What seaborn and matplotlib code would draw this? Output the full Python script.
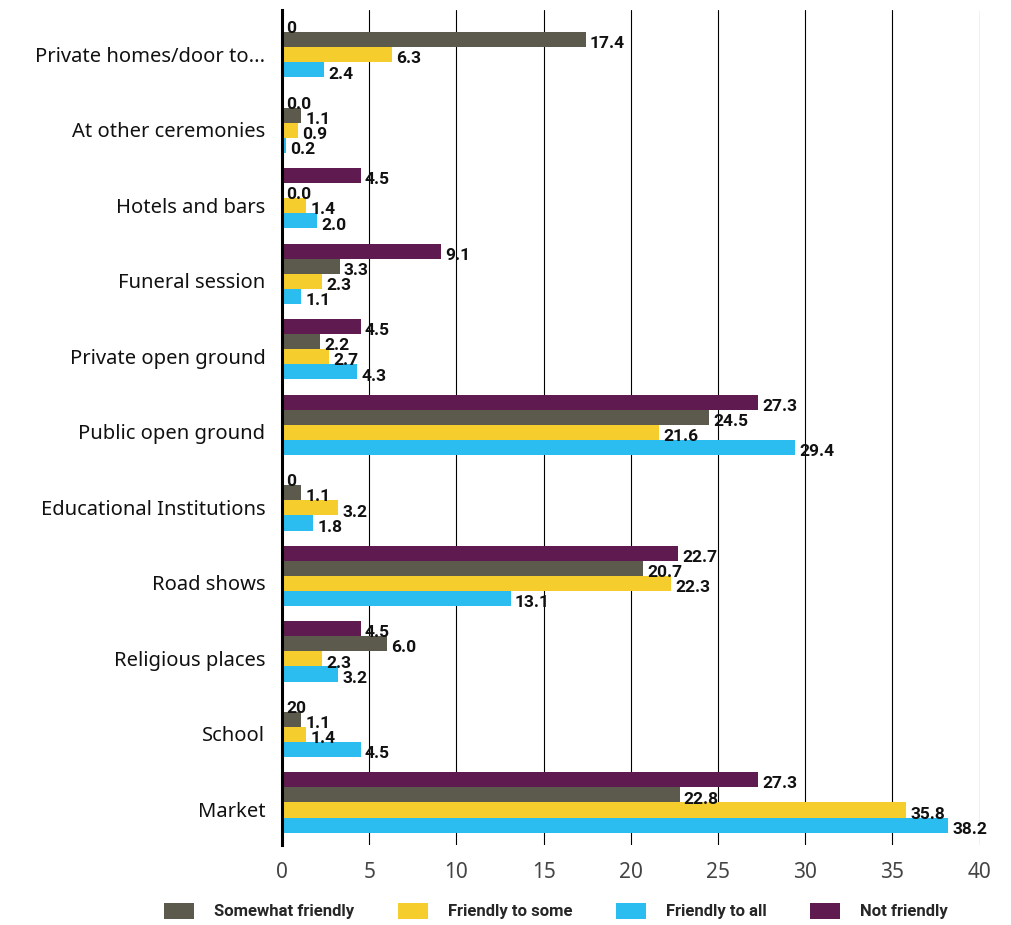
import pandas as pd
import numpy as np
import matplotlib
matplotlib.use("Agg")
import matplotlib.pyplot as plt
import matplotlib.transforms as mtransforms
import seaborn as sns
from matplotlib.patches import Patch

sns.set_theme(style="white")
plt.rcParams['font.family'] = ['Noto Sans', 'DejaVu Sans']

# ---- data ----
places = [
    "Private homes/door to...", "At other ceremonies", "Hotels and bars",
    "Funeral session", "Private open ground", "Public open ground",
    "Educational Institutions", "Road shows", "Religious places",
    "School", "Market",
]
not_friendly = [0, 0.0, 4.5, 9.1, 4.5, 27.3, 0, 22.7, 4.5, 0, 27.3]
somewhat_friendly = [17.4, 1.1, 0.0, 3.3, 2.2, 24.5, 1.1, 20.7, 6.0, 1.1, 22.8]
friendly_to_some = [6.3, 0.9, 1.4, 2.3, 2.7, 21.6, 3.2, 22.3, 2.3, 1.4, 35.8]
friendly_to_all = [2.4, 0.2, 2.0, 1.1, 4.3, 29.4, 1.8, 13.1, 3.2, 4.5, 38.2]
# printed labels that differ from the plain one-decimal value
label_overrides = {
    ("Not friendly", "Private homes/door to..."): "0",
    ("Not friendly", "Educational Institutions"): "0",
    ("Not friendly", "School"): "20",
}
x_ticks = [0, 5, 10, 15, 20, 25, 30, 35, 40]

series = {
    "Not friendly": not_friendly,
    "Somewhat friendly": somewhat_friendly,
    "Friendly to some": friendly_to_some,
    "Friendly to all": friendly_to_all,
}
colors = {
    "Not friendly": "#5f1a4f",
    "Somewhat friendly": "#5c5a4c",
    "Friendly to some": "#f5cd2c",
    "Friendly to all": "#2bbdf0",
}
legend_order = ["Somewhat friendly", "Friendly to some", "Friendly to all", "Not friendly"]

rows = []
for name, vals in series.items():
    for place, v in zip(places, vals):
        rows.append({"Place": place, "Response": name, "Percent": v})
df = pd.DataFrame(rows)

narrow = ['Roboto', 'DejaVu Sans']

fig = plt.figure(figsize=(10.11, 9.25), dpi=100)
ax = fig.add_axes([0.279, 0.086, 0.69, 0.903])

sns.barplot(
    data=df, y="Place", x="Percent", hue="Response",
    order=places, hue_order=list(series.keys()),
    palette=colors, orient="h", width=0.8, saturation=1,
    errorbar=None, legend=False, ax=ax, zorder=3, linewidth=0,
)

# value labels
for cont, name in zip(ax.containers, series.keys()):
    for bar, place, v in zip(cont, places, series[name]):
        txt = label_overrides.get((name, place), f"{v:.1f}")
        ax.annotate(
            txt, (bar.get_width(), bar.get_y() + bar.get_height() / 2),
            xytext=(3, -3), textcoords="offset points",
            ha="left", va="center", fontsize=12.5, fontweight="bold",
            family=narrow, color="#111111", zorder=4,
        )

ax.set_xlim(0, 40)
ax.set_ylim(10.57, -0.49)
ax.set_xticks(x_ticks)
ax.set_xticklabels([str(t) for t in x_ticks], fontsize=15, color="#444444")
ax.tick_params(axis="x", pad=12, length=0)
ax.tick_params(axis="y", labelsize=14.5, length=0, pad=12, colors="#111111")
# category names sit a little below the middle of each group
shift = mtransforms.ScaledTranslation(0, -7 / 100, fig.dpi_scale_trans)
for lbl in ax.get_yticklabels():
    lbl.set_transform(lbl.get_transform() + shift)
for t in x_ticks[1:]:
    ax.axvline(t, color="black", lw=0.8, zorder=1)
for s in ["top", "right", "bottom"]:
    ax.spines[s].set_visible(False)
ax.spines["left"].set_color("black")
ax.spines["left"].set_linewidth(2.2)
ax.spines["left"].set_zorder(5)
ax.set_xlabel("")
ax.set_ylabel("")

handles = [Patch(facecolor=colors[n], edgecolor="none", label=n) for n in legend_order]
fig.legend(
    handles=handles, loc="lower center", bbox_to_anchor=(0.55, -0.01),
    ncol=4, frameon=False, handlelength=1.8, handleheight=1.1,
    columnspacing=2.6, handletextpad=1.2,
    prop={"family": narrow, "weight": "bold", "size": 12},
)

fig.savefig("out.png", dpi=100)
